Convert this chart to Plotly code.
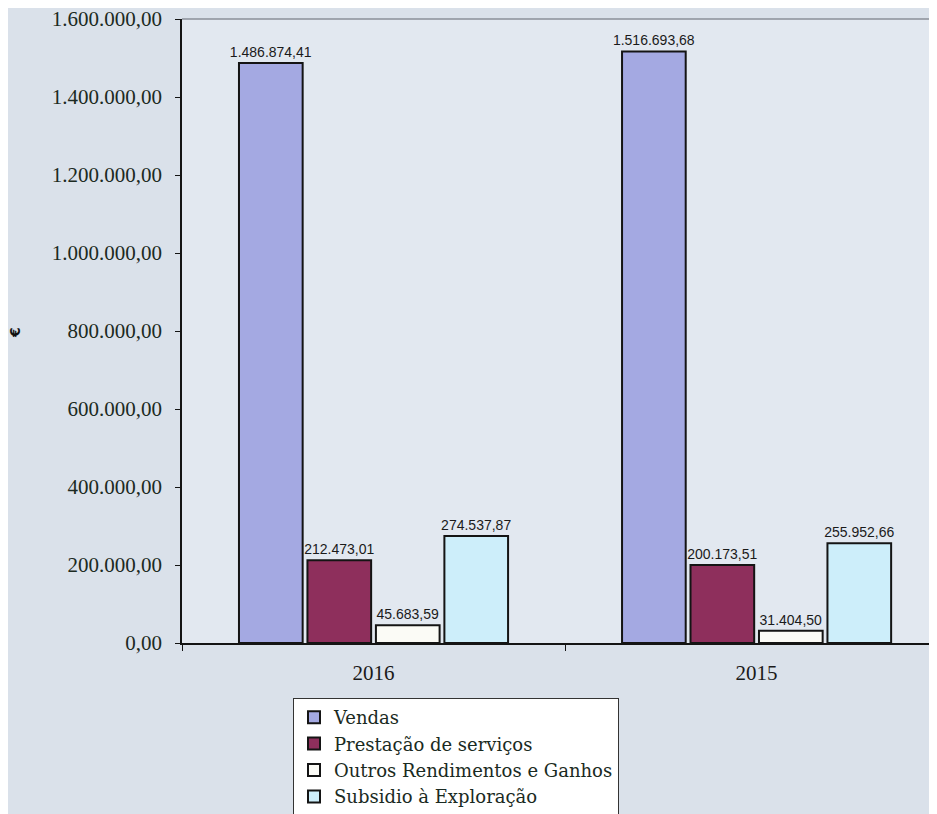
import plotly.graph_objects as go

categories = ["2016", "2015"]
series_names = ["Vendas", "Prestação de serviços", "Outros Rendimentos e Ganhos", "Subsidio à Exploração"]
vendas = [1486874.41, 1516693.68]
prestacao = [212473.01, 200173.51]
outros = [45683.59, 31404.50]
subsidio = [274537.87, 255952.66]
y_ticks = [0, 200000, 400000, 600000, 800000, 1000000, 1200000, 1400000, 1600000]

values = [vendas, prestacao, outros, subsidio]
colors = ["#a4a9e2", "#8e2f5c", "#fbfbf6", "#cdeefa"]

# page has an 8px body margin; figure is offset by it
W, H = 929, 806
L, T = 174, 11
B = H - (643 - 8)

fig = go.Figure()
for name, vals, col in zip(series_names, values, colors):
    fig.add_trace(go.Bar(
        x=categories, y=vals, name=name,
        marker=dict(color=col, line=dict(color="#141414", width=2)),
        texttemplate="%{y:,.2f}", textposition="outside", constraintext="none",
        textfont=dict(family="Liberation Sans", size=14, color="#1a1a1a"),
        cliponaxis=False,
    ))

plot_w = W - L
plot_h = H - T - B

fig.update_layout(
    width=W, height=H,
    margin=dict(l=L, r=0, t=T, b=B, autoexpand=False),
    paper_bgcolor="#dae1ea",
    plot_bgcolor="#e2e8f0",
    separators=",.",
    barmode="group",
    bargap=0.285,
    bargroupgap=0.07,
    showlegend=True,
    legend=dict(
        x=(293 - 182) / plot_w, y=(643 - 698) / plot_h, xanchor="left", yanchor="top",
        bgcolor="#ffffff", bordercolor="#333333", borderwidth=1,
        font=dict(family="DejaVu Serif", size=18, color="#1a2a22"),
        tracegroupgap=0, itemwidth=30,
    ),
    xaxis=dict(
        type="category", range=[-0.5, 1.471], automargin=False,
        showline=True, linecolor="#141414", linewidth=1.5,
        ticks="outside", tickson="boundaries", ticklen=6, tickcolor="#141414",
        ticklabelstandoff=10,
        tickfont=dict(family="Liberation Serif", size=21, color="#1a1a1a"),
        showgrid=False,
    ),
    yaxis=dict(
        range=[0, 1600000], tickvals=y_ticks, tickformat=",.2f", automargin=False,
        showline=True, linecolor="#141414", linewidth=1.5,
        ticks="outside", ticklen=5, tickcolor="#141414",
        ticklabelstandoff=9, ticklabeloverflow="allow",
        tickfont=dict(family="Liberation Serif", size=21, color="#1c2a22"),
        showgrid=False, zeroline=False,
    ),
)
fig.add_annotation(
    text="<b>€</b>", textangle=-90, showarrow=False,
    xref="paper", yref="paper", x=(15 - 182) / plot_w, y=(643 - 333) / plot_h,
    xanchor="center", yanchor="middle",
    font=dict(family="DejaVu Sans", size=14, color="#111111"),
)
fig.add_shape(type="line", xref="paper", yref="paper", x0=0, x1=1, y0=1, y1=1,
              line=dict(color="#8a8f98", width=1.5))

fig.write_html("out.html")
